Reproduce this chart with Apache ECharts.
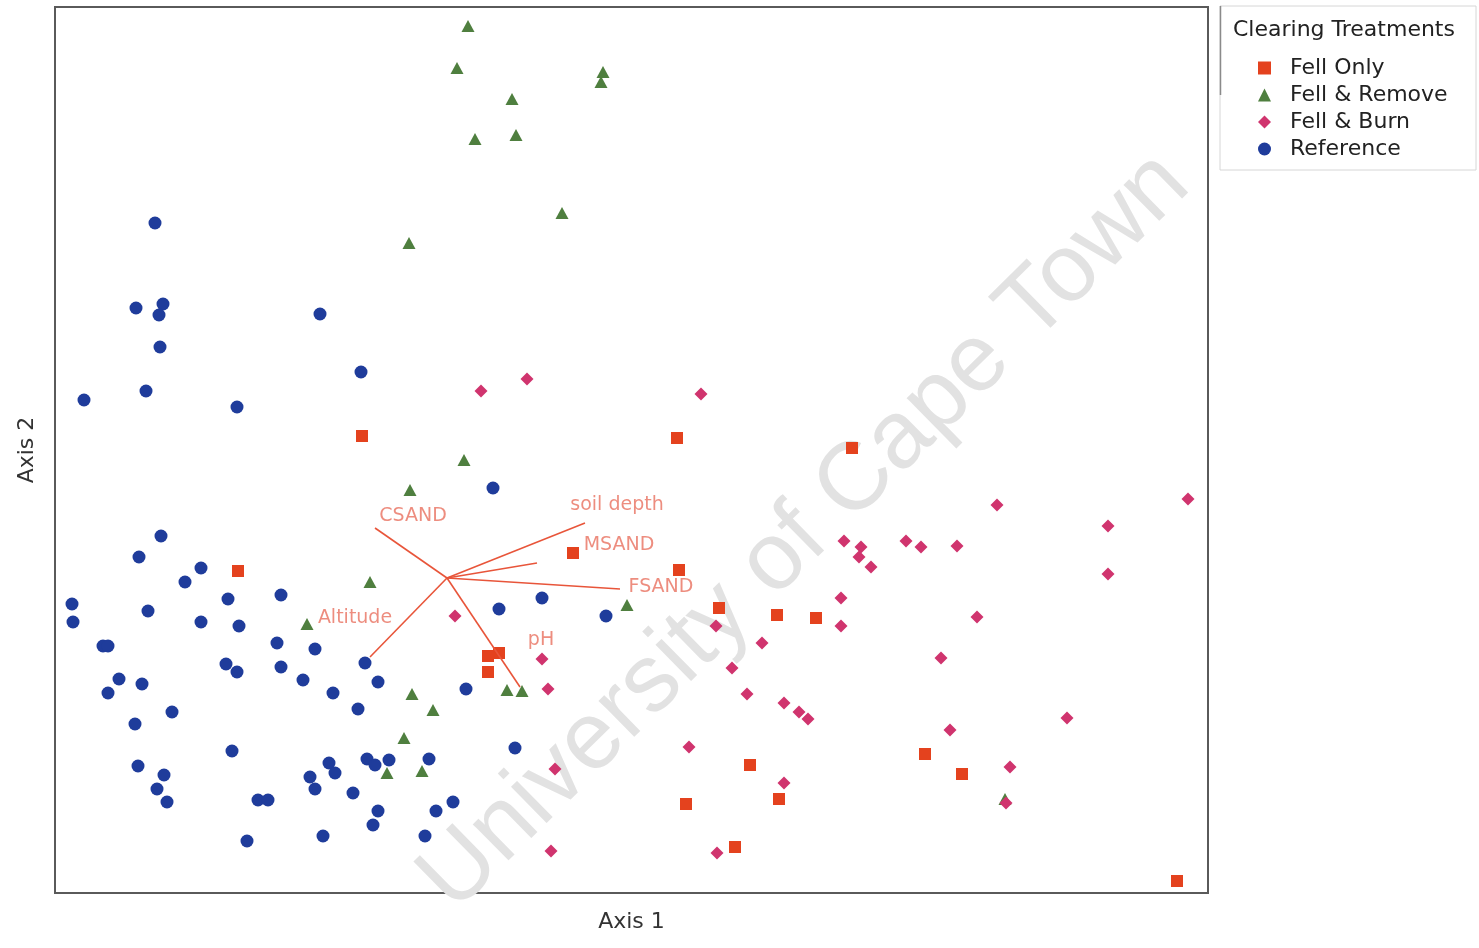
<!DOCTYPE html>
<html>
<head>
<meta charset="utf-8">
<script src="https://cdn.jsdelivr.net/npm/echarts/dist/echarts.min.js"></script>
<style>
  html, body { margin: 0; padding: 0; background: #ffffff; }
  #chart { width: 1479px; height: 948px; }
</style>
</head>
<body>
<div id="chart"></div>
<script>
// Ordination scores of the plots, one list per clearing treatment ([Axis 1, Axis 2])
const fellOnly = [
  [307,457],[622,455],[797,445],[183,322],[518,340],[624,323],[664,285],[722,278],
  [761,275],[433,237],[444,240],[433,221],[695,128],[870,139],[907,119],[631,89],
  [724,94],[680,46],[1122,12]
];
const fellRemove = [
  [413,867],[402,825],[457,794],[420,754],[461,758],[548,821],[546,811],[507,680],
  [354,650],[409,433],[355,403],[315,311],[252,269],[572,288],[452,203],[467,202],
  [357,199],[378,183],[349,155],[367,122],[332,120],[950,94]
];
const fellBurn = [
  [426,502],[472,514],[646,499],[942,388],[1133,394],[1053,367],[1053,319],[789,352],
  [806,346],[804,336],[816,326],[851,352],[866,346],[902,347],[786,295],[922,276],
  [786,267],[661,267],[400,277],[487,234],[493,204],[707,250],[677,225],[886,235],
  [692,199],[729,190],[744,181],[753,174],[895,163],[634,146],[1012,175],[955,126],
  [729,110],[951,90],[500,124],[496,42],[662,40]
];
const reference = [
  [100,670],[81,585],[108,589],[104,578],[105,546],[91,502],[29,493],[182,486],
  [265,579],[306,521],[438,405],[106,357],[84,336],[146,325],[130,311],[173,294],
  [226,298],[17,289],[18,271],[93,282],[146,271],[184,267],[48,247],[53,247],
  [222,250],[260,244],[310,230],[171,229],[182,221],[226,226],[64,214],[87,209],
  [53,200],[248,213],[323,211],[278,200],[303,184],[117,181],[80,169],[177,142],
  [83,127],[109,118],[102,104],[112,91],[203,93],[213,93],[274,130],[280,120],
  [255,116],[260,104],[298,100],[312,134],[320,128],[334,133],[374,134],[323,82],
  [318,68],[381,82],[370,57],[268,57],[192,52],[398,91],[411,204],[460,145],
  [487,295],[444,284],[551,277]
];

// Environmental variables fitted as vectors from the joint-plot centre
const vectorOrigin = [392,315];
const envNames = ['CSAND','soil depth','MSAND','FSAND','Altitude','pH'];
const envEnds = [[320,365],[530,370],[482,330],[565,304],[315,236],[465,206]];

// Legend entries
const treatments = ['Fell Only','Fell & Remove','Fell & Burn','Reference'];

// Label placement around the vector tips (pixels)
const envLabelOffset = {
  'CSAND': [38,-12], 'soil depth': [32,-18], 'MSAND': [82,-18],
  'FSAND': [41,-2], 'Altitude': [-15,-39], 'pH': [21,-47]
};

const FONT = '"DejaVu Sans", "Liberation Sans", Arial, sans-serif';
const vectorColor = '#e8553a';
const vectorLabelColor = '#e9705f';

const chart = echarts.init(document.getElementById('chart'), null, { renderer: 'canvas' });

const option = {
  animation: false,
  backgroundColor: '#ffffff',
  grid: {
    left: 55, top: 7, width: 1153, height: 886,
    outerBoundsMode: 'none', containLabel: false,
    show: true, borderColor: '#5a5a5a', borderWidth: 2, backgroundColor: 'transparent'
  },
  xAxis: {
    type: 'value', min: 0, max: 1153,
    name: 'Axis 1', nameLocation: 'middle', nameGap: 18,
    nameTextStyle: { fontSize: 22, color: '#333', fontFamily: FONT },
    axisLine: { show: false }, axisTick: { show: false },
    axisLabel: { show: false }, splitLine: { show: false }
  },
  yAxis: {
    type: 'value', min: 0, max: 886,
    name: 'Axis 2', nameLocation: 'middle', nameGap: 17,
    nameTextStyle: { fontSize: 22, color: '#333', fontFamily: FONT },
    axisLine: { show: false }, axisTick: { show: false },
    axisLabel: { show: false }, splitLine: { show: false }
  },
  legend: {
    data: treatments,
    orient: 'vertical',
    left: 1253, top: 52,
    itemWidth: 13, itemHeight: 13, itemGap: 5,
    textStyle: { fontSize: 22, color: '#222', fontFamily: FONT, padding: [0, 0, 0, 14] },
    selectedMode: false
  },
  graphic: [
    {
      type: 'text', z: 0, silent: true,
      x: 805, y: 532, rotation: 44.5 * Math.PI / 180,
      style: {
        text: 'University of Cape Town',
        font: 'normal 96px "Liberation Sans", Arial, sans-serif',
        fill: '#e2e2e2', align: 'center', verticalAlign: 'middle'
      }
    },
    {
      type: 'rect', silent: true, z: 1,
      shape: { x: 1220, y: 6, width: 256, height: 164 },
      style: { fill: 'none', stroke: '#d6d6d6', lineWidth: 1 }
    },
    {
      type: 'line', silent: true, z: 1,
      shape: { x1: 1220.5, y1: 6, x2: 1220.5, y2: 95 },
      style: { stroke: '#8a8a8a', lineWidth: 1.5 }
    },
    {
      type: 'text', silent: true, z: 1,
      x: 1233, y: 30,
      style: {
        text: 'Clearing Treatments',
        font: 'normal 22px ' + FONT,
        fill: '#222', align: 'left', verticalAlign: 'middle'
      }
    }
  ],
  series: [
    {
      name: 'Fell Only', type: 'scatter', symbol: 'rect', symbolSize: 12,
      data: fellOnly, itemStyle: { color: '#e4421e', opacity: 1 }, z: 3
    },
    {
      name: 'Fell & Remove', type: 'scatter', symbol: 'triangle', symbolSize: [13, 12],
      data: fellRemove, itemStyle: { color: '#4f7f3f', opacity: 1 }, z: 3
    },
    {
      name: 'Fell & Burn', type: 'scatter', symbol: 'diamond', symbolSize: 13,
      data: fellBurn, itemStyle: { color: '#d0346e', opacity: 1 }, z: 3
    },
    {
      name: 'Reference', type: 'scatter', symbol: 'circle', symbolSize: 13,
      data: reference, itemStyle: { color: '#1f3c9b', opacity: 1 }, z: 3
    },
    {
      name: 'vectors', type: 'lines', coordinateSystem: 'cartesian2d', silent: true, z: 4,
      data: envEnds.map(function (end) { return { coords: [vectorOrigin, end] }; }),
      lineStyle: { color: vectorColor, width: 1.6, opacity: 1 }
    },
    {
      name: 'vector labels', type: 'scatter', silent: true, symbolSize: 0, z: 5,
      data: envEnds.map(function (end, i) {
        return {
          value: end,
          name: envNames[i],
          label: { offset: envLabelOffset[envNames[i]] }
        };
      }),
      label: {
        show: true, position: 'inside',
        formatter: function (p) { return p.name; },
        fontSize: 19, color: vectorLabelColor, fontFamily: FONT
      }
    }
  ]
};

chart.setOption(option);
</script>
</body>
</html>
